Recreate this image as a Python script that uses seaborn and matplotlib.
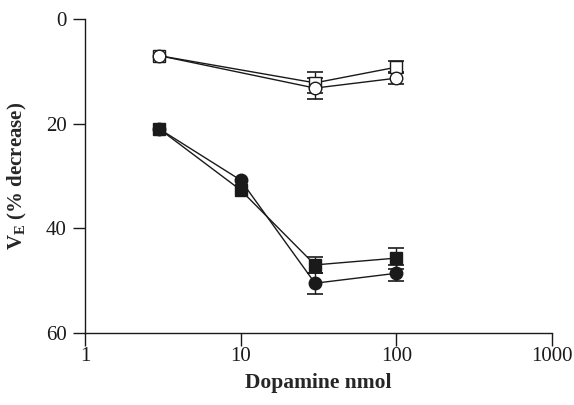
import matplotlib
matplotlib.use("Agg")
import matplotlib.pyplot as plt
import pandas as pd
import seaborn as sns

dose = [3, 10, 30, 100]

# open symbols
open_square = [7.0, None, 12.2, 9.2]
open_square_err = [0.0, None, 2.0, 1.2]
open_circle = [7.0, None, 13.2, 11.3]
open_circle_err = [0.0, None, 2.0, 1.1]

# filled symbols
filled_square = [21.0, 32.7, 47.0, 45.7]
filled_square_err = [0.0, 0.0, 1.5, 2.0]
filled_circle = [21.0, 30.8, 50.5, 48.6]
filled_circle_err = [0.0, 0.0, 2.0, 1.5]

series = [
    ("open_square", open_square, open_square_err, "s", "white"),
    ("open_circle", open_circle, open_circle_err, "o", "white"),
    ("filled_square", filled_square, filled_square_err, "s", "#1a1a1a"),
    ("filled_circle", filled_circle, filled_circle_err, "o", "#1a1a1a"),
]

sns.set_style("ticks")
plt.rcParams["font.family"] = ["Liberation Serif", "DejaVu Serif"]
plt.rcParams["mathtext.fontset"] = "custom"
plt.rcParams["mathtext.rm"] = "Liberation Serif"
plt.rcParams["mathtext.bf"] = "Liberation Serif:bold"

fig = plt.figure(figsize=(5.74, 4.05), dpi=100)
ax = fig.add_axes([0.148, 0.178, 0.814, 0.775])

for name, vals, errs, marker, face in series:
    df = pd.DataFrame({"dose": dose, "val": vals, "err": errs}).dropna()
    sns.lineplot(data=df, x="dose", y="val", ax=ax, color="#1a1a1a", lw=1.0,
                 marker=marker, markersize=9, markerfacecolor=face,
                 markeredgecolor="#1a1a1a", markeredgewidth=1.0, zorder=3)
    e = df[df["err"] > 0]
    ax.errorbar(e["dose"], e["val"], yerr=e["err"], fmt="none",
                ecolor="#1a1a1a", elinewidth=1.0, capsize=6, capthick=1.2, zorder=2)

ax.set_xscale("log")
ax.set_xlim(1, 1000)
ax.set_ylim(60, 0)
ax.set_xticks([1, 10, 100, 1000])
ax.set_xticklabels(["1", "10", "100", "1000"])
ax.minorticks_off()
ax.set_yticks([0, 20, 40, 60])

sns.despine(ax=ax)
for s in ["left", "bottom"]:
    ax.spines[s].set_linewidth(1.0)
    ax.spines[s].set_color("#1a1a1a")
ax.tick_params(axis="both", direction="out", length=9, width=1.0,
               labelsize=15, color="#1a1a1a", labelcolor="#1a1a1a")
ax.tick_params(axis="x", pad=1)
ax.tick_params(axis="y", pad=4)

ax.set_xlabel("Dopamine nmol", fontsize=15.5, fontweight="bold", labelpad=5)
ax.set_ylabel(r"$\mathbf{V_E}$ (% decrease)", fontsize=15, fontweight="bold", labelpad=12)

fig.savefig("out.png", dpi=100)
